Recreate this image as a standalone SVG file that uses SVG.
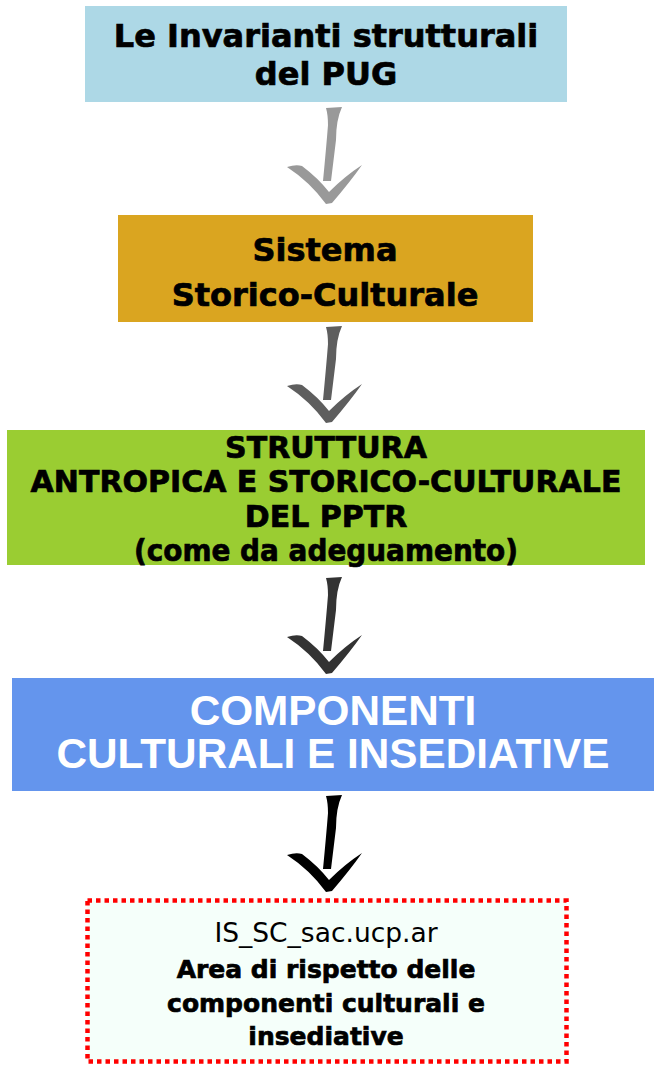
<svg xmlns="http://www.w3.org/2000/svg" width="658" height="1072" viewBox="0 0 658 1072">
<style>
.v{font-family:"DejaVu Sans","Verdana",sans-serif;font-weight:bold;fill:#000;stroke:#000;stroke-width:0.7px;text-anchor:middle}
.a{font-family:"Liberation Sans",Arial,sans-serif;font-weight:bold;fill:#fff;text-anchor:middle;font-size:42.3px}
.n{font-family:"DejaVu Sans","Verdana",sans-serif;fill:#000;text-anchor:middle;font-size:26.5px}
</style>
<defs>
<g id="arr">
<path d="M-4,0 L12,-1 Q6,12 6,32 L1,73 L-7,73 Q-4,42 -2,17 Q-2,7 -4,0 Z"/>
<path d="M-43,59 Q-34,56 -28,58 Q-12,70 -1,84 Q15,68 32,57 Q20,74 2,95 L-4,96 Q-20,74 -43,59 Z"/>
</g>
</defs>
<rect width="658" height="1072" fill="#fff"/>
<g id="connectors">
<use href="#arr" x="330" y="108" fill="#999999"/>
<use href="#arr" x="330" y="327" fill="#5e5e5e"/>
<use href="#arr" x="330" y="578" fill="#333333"/>
<use href="#arr" x="330" y="796" fill="#000000"/>
</g>
<g id="node1">
<rect x="85" y="6" width="482" height="96" fill="#ADD8E6"/>
<text class="v" x="326" y="47" font-size="32">Le Invarianti strutturali</text>
<text class="v" x="326" y="85" font-size="32">del PUG</text>
</g>
<g id="node2">
<rect x="118" y="215" width="415" height="107" fill="#DAA520"/>
<text class="v" x="325" y="261" font-size="32">Sistema</text>
<text class="v" x="325" y="306" font-size="32">Storico-Culturale</text>
</g>
<g id="node3">
<rect x="7" y="430" width="638" height="135" fill="#9ACD32"/>
<text class="v" x="326" y="458" font-size="30">STRUTTURA</text>
<text class="v" x="326" y="492" font-size="30">ANTROPICA E STORICO-CULTURALE</text>
<text class="v" x="326" y="527" font-size="30">DEL PPTR</text>
<text class="v" x="326" y="561" font-size="30" textLength="384" lengthAdjust="spacingAndGlyphs">(come da adeguamento)</text>
</g>
<g id="node4">
<rect x="12" y="678" width="642" height="113" fill="#6495ED"/>
<text class="a" x="333" y="725">COMPONENTI</text>
<text class="a" x="333" y="768">CULTURALI E INSEDIATIVE</text>
</g>
<g id="node5">
<rect x="87.5" y="900.5" width="479" height="161" fill="#F5FFFA" stroke="#FF0000" stroke-width="4.5" stroke-dasharray="4.5 4"/>
<text class="n" x="326" y="942">IS_SC_sac.ucp.ar</text>
<text class="v" x="326" y="978" font-size="25">Area di rispetto delle</text>
<text class="v" x="326" y="1012" font-size="25">componenti culturali e</text>
<text class="v" x="326" y="1045" font-size="25">insediative</text>
</g>
</svg>
